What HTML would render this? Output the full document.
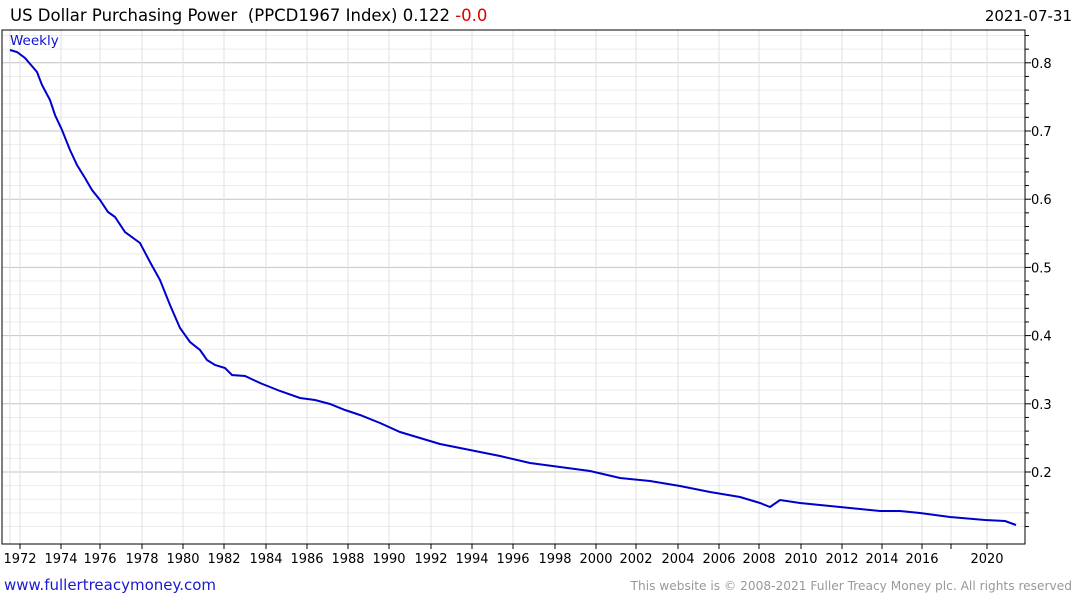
<!DOCTYPE html>
<html><head><style>
body{margin:0;background:#fff;width:1075px;height:600px;overflow:hidden;font-family:"DejaVu Sans",sans-serif}
</style></head><body>
<svg width="1075" height="600" xmlns="http://www.w3.org/2000/svg" font-family="DejaVu Sans, sans-serif">
<rect width="1075" height="600" fill="#fff"/>
<g id="grid"></g>
<text x="10" y="21" font-size="16.5" fill="#000" style="white-space:pre">US Dollar Purchasing Power  (PPCD1967 Index) 0.122 <tspan fill="#e00000">-0.0</tspan></text>
<text x="1072" y="21" font-size="15" fill="#000" text-anchor="end">2021-07-31</text>
<text x="10" y="45" font-size="13.5" fill="#1010d0">Weekly</text>
<polyline fill="none" stroke="#0000cc" stroke-width="2" points="10,50 17,52 25,58 37,72 42,85 50,100 55,115 62,130 70,150 77,165 85,178 92,190 100,200 108,212 115,217 125,232 140,243 150,262 160,280 170,305 180,328 190,342 200,350 207,360 215,365 225,368 232,375 245,376 260,383 280,391 300,398 315,400 330,404 345,410 360,415 380,423 400,432 420,438 440,444 470,450 500,456 530,463 560,467 590,471 620,478 650,481 680,486 710,492 740,497 760,503 770,507 780,500 800,503 830,506 860,509 880,511 900,511 920,513 950,517 985,520 1005,521 1016,525"/>
<text x="4" y="590" font-size="15" fill="#1a1ad0">www.fullertreacymoney.com</text>
<text x="1072" y="590" font-size="12.2" fill="#999" text-anchor="end">This website is © 2008-2021 Fuller Treacy Money plc. All rights reserved</text>
</svg>
<script>
var g=document.getElementById('grid'),s='';
var L=2,R=1025,T=30,B=544;
function y(v){return 472-(v-0.2)*682;}
for(var v=0.12;v<=0.845;v+=0.02){var yy=y(v);if(yy<T||yy>B)continue;var maj=Math.abs(v*10-Math.round(v*10))<0.01;
s+='<line x1="'+L+'" x2="'+R+'" y1="'+yy+'" y2="'+yy+'" stroke="'+(maj?'#c4c4c4':'#ececec')+'"/>';
s+='<line x1="'+R+'" x2="'+(R+(maj?6:4))+'" y1="'+yy+'" y2="'+yy+'" stroke="#000"/>';
if(maj)s+='<text x="1031" y="'+(yy+5)+'" font-size="13">'+v.toFixed(1)+'</text>';}
var xs=[[20,1972],[61,1974],[100,1976],[142,1978],[183,1980],[224,1982],[266,1984],[307,1986],[348,1988],[389,1990],[431,1992],[472,1994],[513,1996],[555,1998],[596,2000],[636,2002],[678,2004],[719,2006],[759,2008],[801,2010],[842,2012],[882,2014],[922,2016],[951,0],[987,2020]];
s+='<line x1="10" x2="10" y1="'+T+'" y2="'+B+'" stroke="#e0e0e0"/>';
xs.forEach(function(p){s+='<line x1="'+p[0]+'" x2="'+p[0]+'" y1="'+T+'" y2="'+B+'" stroke="#e0e0e0"/>';
s+='<line x1="'+p[0]+'" x2="'+p[0]+'" y1="'+B+'" y2="'+(B+5)+'" stroke="#000"/>';
if(p[1])s+='<text x="'+p[0]+'" y="563" font-size="13" text-anchor="middle">'+p[1]+'</text>';});
s+='<rect x="'+L+'" y="'+T+'" width="'+(R-L)+'" height="'+(B-T)+'" fill="none" stroke="#000"/>';
g.innerHTML=s;
</script>
</body></html>
